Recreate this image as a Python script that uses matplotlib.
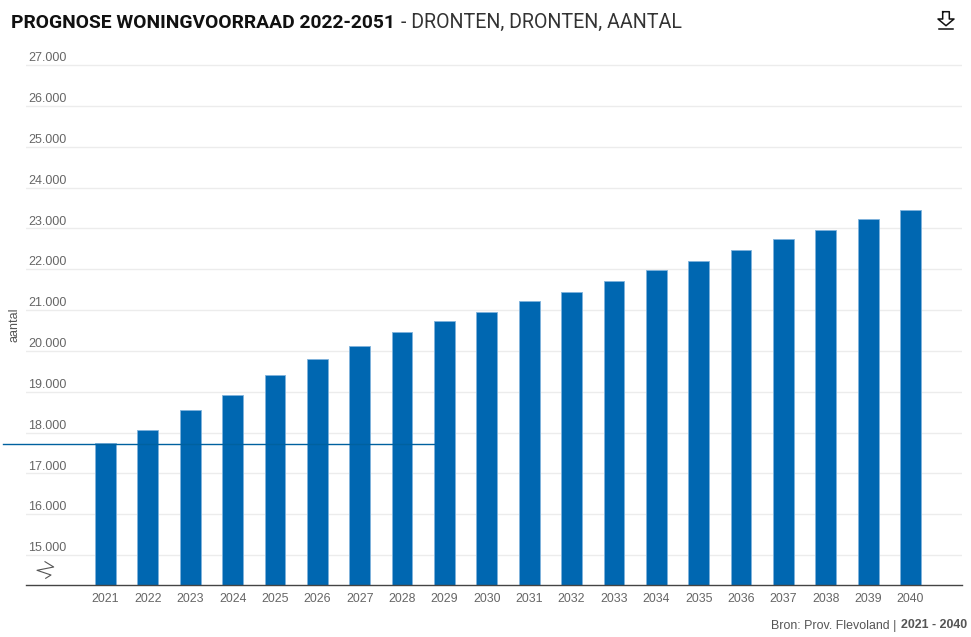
import matplotlib
matplotlib.use("Agg")
import matplotlib.pyplot as plt
from matplotlib.transforms import blended_transform_factory

years = list(range(2021, 2041))
woningen = [17740, 18060, 18540, 18910, 19420, 19810, 20130, 20450, 20720, 20960,
            21210, 21450, 21720, 21970, 22210, 22460, 22730, 22970, 23220, 23460]
ytick_values = list(range(15000, 28000, 1000))
ytick_labels = ["15.000", "16.000", "17.000", "18.000", "19.000", "20.000", "21.000",
                "22.000", "23.000", "24.000", "25.000", "26.000", "27.000"]
ref_value = 17720
ref_years = [2018.58, 2028.76]

W, H = 971, 637
BLUE = "#0067b1"
GREY = "#666666"


def line_px(xs, ys, **kw):
    # figure decoration given in pixels of the picture
    fig.add_artist(plt.Line2D([x / W for x in xs], [1 - y / H for y in ys], **kw))


plt.rcParams["font.family"] = ["Liberation Sans", "DejaVu Sans"]
fig = plt.figure(figsize=(W / 100, H / 100), dpi=100)
ax = fig.add_axes([26 / W, 1 - 585 / H, (962 - 26) / W, (585 - 55) / H])

ax.bar(years, woningen, width=0.49, color=BLUE, edgecolor="#7fb3dc", linewidth=0.6, zorder=3)

# y range worked out from grid lines at 65 (27000) and 555 (15000)
px_per_unit = (555 - 65) / 12000
ax.set_ylim(15000 - (585 - 555) / px_per_unit, 27000 + (65 - 55) / px_per_unit)
px_per_year = (910.5 - 105.5) / 19
ax.set_xlim(2021 - (105.5 - 26) / px_per_year, 2021 + (962 - 105.5) / px_per_year)

ax.set_yticks(ytick_values)
ax.set_yticklabels([])
ax.set_xticks(years)
ax.set_xticklabels(years, fontsize=8.9, color=GREY)
ax.tick_params(axis="x", length=0, pad=6)
ax.tick_params(axis="y", length=0)
ax.grid(axis="y", color="#ececec", linewidth=1, zorder=0)
ax.grid(axis="x", visible=False)
for s in ["top", "right", "left"]:
    ax.spines[s].set_visible(False)
ax.spines["bottom"].set_color("#444444")
ax.spines["bottom"].set_linewidth(1)
ax.spines["bottom"].set_zorder(4)

# labels sit on top of the grid lines, left aligned
trans = blended_transform_factory(fig.transFigure, ax.transData)
for v, lab in zip(ytick_values, ytick_labels):
    ax.annotate(lab, xy=(28 / W, v), xycoords=trans, xytext=(0, 0.5), textcoords="offset points",
                fontsize=9, color=GREY, va="bottom", ha="left")

ax.plot(ref_years, [ref_value, ref_value], color="#00619f", linewidth=1, clip_on=False, zorder=5)

# axis break mark
line_px([45, 53.7, 37, 51, 45.7], [561.7, 567, 570.3, 575, 578.3], color="#555555", linewidth=0.8)

fig.text(14 / W, 1 - 325 / H, "aantal", rotation=90, fontsize=9, color="#555555", ha="center", va="center")

# title in two weights
t1 = fig.text(11 / W, 1 - 22.5 / H, "PROGNOSE WONINGVOORRAAD 2022-2051", fontsize=13.9, family="Roboto",
              weight="bold", color="#111111", va="center", ha="left")
fig.canvas.draw()
end = t1.get_window_extent().x1
fig.text((end + 6) / W, 1 - 22.5 / H, "- DRONTEN, DRONTEN, AANTAL", fontsize=14.1, family="Roboto",
         color="#333333", va="center", ha="left")

# download icon
line_px([942.7, 949.3, 949.3, 954, 946, 938, 942.7, 942.7], [11.7, 11.7, 19, 19, 25.7, 19, 19, 11.7],
        color="#111111", linewidth=1.1)
line_px([939, 953], [28.7, 28.7], color="#111111", linewidth=1.1)

# source
fig.text(896 / W, 1 - 625.5 / H, "Bron: Prov. Flevoland |", fontsize=8.9, color="#555555", ha="right", va="center")
fig.text(967 / W, 1 - 625.5 / H, "2021 - 2040", fontsize=8.9, weight="bold", color="#555555", ha="right", va="center")

fig.savefig("out.png", dpi=100)
